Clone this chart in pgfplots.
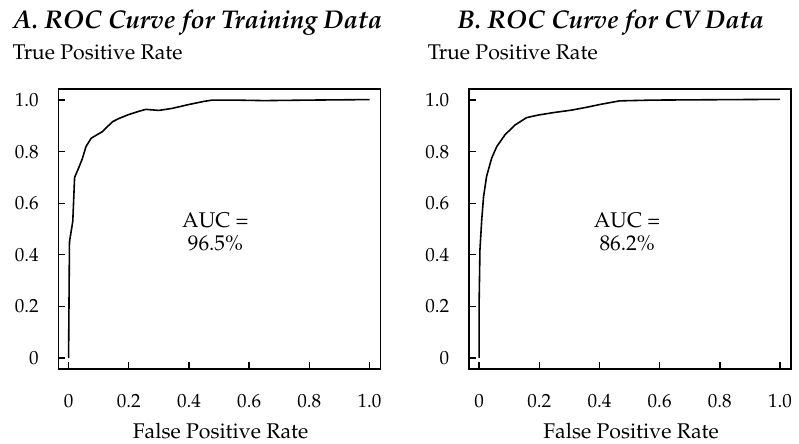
\documentclass[border=0pt]{standalone}
\usepackage[T1]{fontenc}
\usepackage{mathpazo}
\usepackage{pgfplots}
\usepackage{pgfplotstable}
\pgfplotsset{compat=1.18}

% ROC points
\pgfplotstableread{
fpr tpr
0 0
0.003 0.45
0.014 0.53
0.020 0.70
0.031 0.73
0.045 0.77
0.058 0.82
0.075 0.852
0.095 0.866
0.113 0.878
0.130 0.898
0.146 0.916
0.168 0.929
0.200 0.944
0.235 0.957
0.257 0.964
0.300 0.960
0.345 0.968
0.400 0.983
0.450 0.995
0.477 1.000
0.550 1.000
0.650 0.998
0.800 1.000
1.000 1.002
}\traindata

\pgfplotstableread{
fpr tpr
0 0
0.0005 0.23
0.003 0.42
0.009 0.537
0.015 0.625
0.025 0.704
0.042 0.775
0.059 0.820
0.086 0.865
0.119 0.903
0.158 0.932
0.197 0.942
0.250 0.952
0.307 0.961
0.357 0.972
0.406 0.984
0.467 0.997
0.577 1.000
1.000 1.003
}\cvdata

\pgfplotsset{rocstyle/.style={
  scale only axis, width=162pt, height=140.85pt,
  xmin=-0.034, xmax=1.036, ymin=-0.042, ymax=1.044,
  axis line style={line width=0.8pt},
  xtick={0,0.2,0.4,0.6,0.8,1}, xticklabels={0,0.2,0.4,0.6,0.8,1.0},
  ytick={0,0.2,0.4,0.6,0.8,1}, yticklabels={0,0.2,0.4,0.6,0.8,1.0},
  xtick pos=bottom, ytick pos=left, tick align=inside,
  major tick length=3.5pt, tick style={line width=0.7pt, black},
  tick label style={font=\fontsize{9.6}{11}\selectfont},
  xticklabel shift=8.85pt, yticklabel shift=6.15pt,
}}

\begin{document}
\begin{tikzpicture}
\path (0,0) rectangle (399.5pt,223pt);
\fontsize{10.7}{12}\selectfont

\begin{axis}[rocstyle, at={(29.35pt,37.5pt)}, anchor=south west]
\addplot[black, line width=0.8pt, no markers] table[x=fpr, y=tpr] {\traindata};
\node[anchor=base] at (axis cs:0.488,0.507) {AUC =};
\node[anchor=base] at (axis cs:0.488,0.417) {96.5\%};
\end{axis}

\begin{axis}[rocstyle, at={(235.85pt,37.5pt)}, anchor=south west]
\addplot[black, line width=0.8pt, no markers] table[x=fpr, y=tpr] {\cvdata};
\node[anchor=base] at (axis cs:0.492,0.507) {AUC =};
\node[anchor=base] at (axis cs:0.492,0.417) {86.2\%};
\end{axis}

\node[anchor=base west, inner sep=0, font=\fontsize{12.9}{14}\selectfont\bfseries\itshape] at (6.35pt,208.8pt) {A. ROC Curve for Training Data};
\node[anchor=base west, inner sep=0, font=\fontsize{12.9}{14}\selectfont\bfseries\itshape] at (230pt,208.8pt) {B. ROC Curve for CV Data};
\node[anchor=base west, inner sep=0] at (6.15pt,193.3pt) {True Positive Rate};
\node[anchor=base west, inner sep=0] at (215pt,193.3pt) {True Positive Rate};
\node[anchor=base, inner sep=0] at (111pt,2.2pt) {False Positive Rate};
\node[anchor=base, inner sep=0] at (317.5pt,2.2pt) {False Positive Rate};
\end{tikzpicture}
\end{document}
